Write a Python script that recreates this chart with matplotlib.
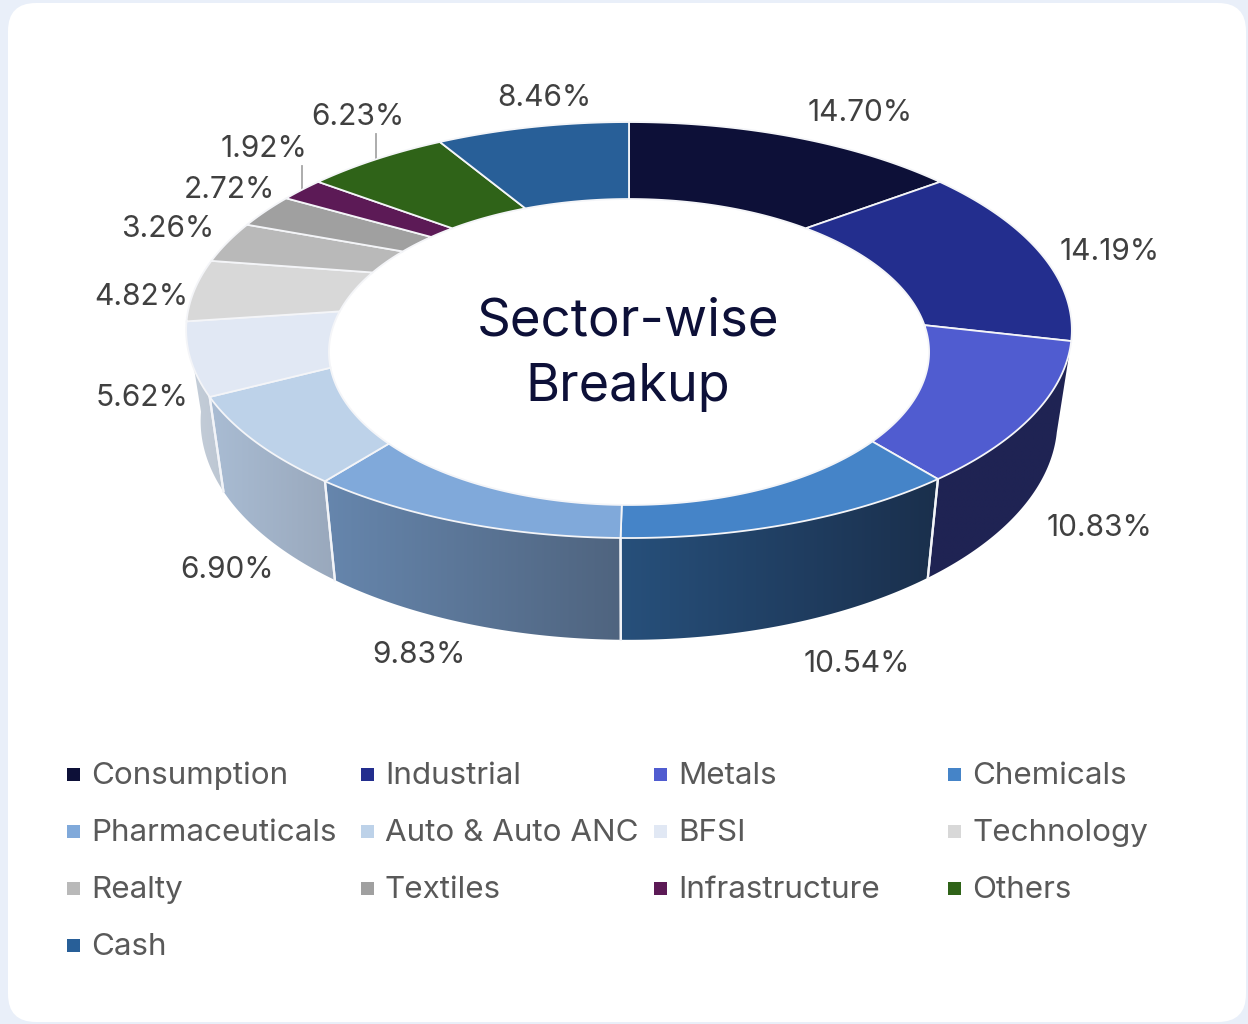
import numpy as np
import matplotlib.pyplot as plt
from matplotlib.colors import LinearSegmentedColormap
from matplotlib.patches import FancyBboxPatch, Polygon, Rectangle

# sector shares, clockwise from the top of the ring
sectors = ["Consumption", "Industrial", "Metals", "Chemicals", "Pharmaceuticals",
           "Auto & Auto ANC", "BFSI", "Technology", "Realty", "Textiles",
           "Infrastructure", "Others", "Cash"]
shares = [14.70, 14.19, 10.83, 10.54, 9.83, 6.90, 5.62, 4.82, 3.26, 2.72, 1.92, 6.23, 8.46]
colors = ["#0d1038", "#232e8e", "#505cd0", "#4584c8", "#80a9da", "#bdd2e9", "#e1e8f4",
          "#d8d8d8", "#b9b9b9", "#a0a0a0", "#5c1a56", "#2f6318", "#285f98"]

# wall shading, left and right end of each visible side face
wall_left = {2: "#1f2353", 3: "#27507b", 4: "#6686ad", 5: "#a9bcd3", 6: "#c6cfda"}
wall_right = {2: "#1f2353", 3: "#1a2f4c", 4: "#4f647f", 5: "#99a8bc", 6: "#bcc6d2"}

label_pos = [(860, 113), (1110, 252), (1100, 528), (857, 664), (419, 655), (227, 570),
             (142, 398), (141, 297), (168, 229), (229, 190), (264, 149), (358, 117), (544, 98)]
leaders = {10: (302, 166, 302, 192), 11: (376, 134, 376, 160)}

# each ring edge is a circle seen in perspective: cx, cy, half width, half height, strength
outer_top = (629, 290.3, 434.7, 200.4, 0.191)
outer_low = (629, 379.0, 420.5, 211.0, 0.191)
inner_top = (629, 290.8, 275.0, 128.5, 0.40)


def project(theta, edge):
    cx, cy, a, b, k = edge
    f = 1 / (1 + k * np.cos(theta))
    return cx + a * np.sin(theta) * f, cy - b * np.cos(theta) * f


def arc(start, end, edge, n=120):
    return project(np.linspace(start, end, n), edge)


FONT = ["Inter", "DejaVu Sans"]
fig = plt.figure(figsize=(12.48, 10.24), dpi=100, facecolor="#e9eff9")
ax = fig.add_axes([0, 0, 1, 1])
ax.axis("off")

ax.add_patch(FancyBboxPatch((8 + 28, 3 + 28), 1238 - 56, 1019 - 56,
                            boxstyle="round,pad=28,rounding_size=28",
                            fc="white", ec="none", zorder=0))

edges = np.radians(np.cumsum([0] + shares) / sum(shares) * 360)

# side walls first, a horizontal gradient clipped to each wall outline
for i in wall_left:
    start, end = edges[i], edges[i + 1]
    xt, yt = arc(start, end, outer_top)
    xb, yb = arc(end, start, outer_low)
    xs, ys = np.r_[xt, xb], np.r_[yt, yb]
    outline = Polygon(np.c_[xs, ys], closed=True, transform=ax.transData, fc="none", ec="none")
    ax.add_patch(outline)
    cmap = LinearSegmentedColormap.from_list(f"wall{i}", [wall_left[i], wall_right[i]])
    im = ax.imshow(np.linspace(0, 1, 256)[None, :], cmap=cmap, aspect="auto", zorder=1,
                   extent=(xs.min(), xs.max(), ys.max(), ys.min()), interpolation="bilinear")
    im.set_clip_path(outline)
    if i > 2:
        x0, y0 = project(start, outer_top)
        x1, y1 = project(start, outer_low)
        ax.plot([x0, x1], [y0, y1], color="#f2f4f8", lw=1.6, zorder=2)
    if i < 6:
        x0, y0 = project(end, outer_top)
        x1, y1 = project(end, outer_low)
        ax.plot([x0, x1], [y0, y1], color="#f2f4f8", lw=1.6, zorder=2)

ax.set_xlim(0, 1248)
ax.set_ylim(1024, 0)

# top face of the ring
for i, color in enumerate(colors):
    xo, yo = arc(edges[i], edges[i + 1], outer_top)
    xi, yi = arc(edges[i + 1], edges[i], inner_top)
    ax.fill(np.r_[xo, xi], np.r_[yo, yi], fc=color, ec="#f4f5f8", lw=1.3, zorder=3)

for i, (x, y) in enumerate(label_pos):
    ax.text(x, y, f"{shares[i]:.2f}%", fontsize=21.5, color="#404040", family=FONT,
            ha="center", va="center", zorder=5)
for x0, y0, x1, y1 in leaders.values():
    ax.plot([x0, x1], [y0, y1], color="#a6a6a6", lw=1.3, zorder=2)

ax.text(628, 322, "Sector-wise", fontsize=38, color="#0d1038", family=FONT,
        ha="center", va="center", zorder=5)
ax.text(628, 387, "Breakup", fontsize=37.5, color="#0d1038", family=FONT,
        ha="center", va="center", zorder=5)

# legend, four columns
col_x = [67, 360.5, 654, 948]
row_y = [774, 831, 888, 945]
for i, name in enumerate(sectors):
    x, y = col_x[i % 4], row_y[i // 4]
    ax.add_patch(Rectangle((x, y - 6.5), 13, 13, fc=colors[i], ec="none", zorder=5))
    ax.text(x + 24.5, y + 2, name, fontsize=22.6, color="#595959", family=FONT,
            ha="left", va="center", zorder=5)

fig.savefig("out.png", dpi=100, facecolor=fig.get_facecolor())
